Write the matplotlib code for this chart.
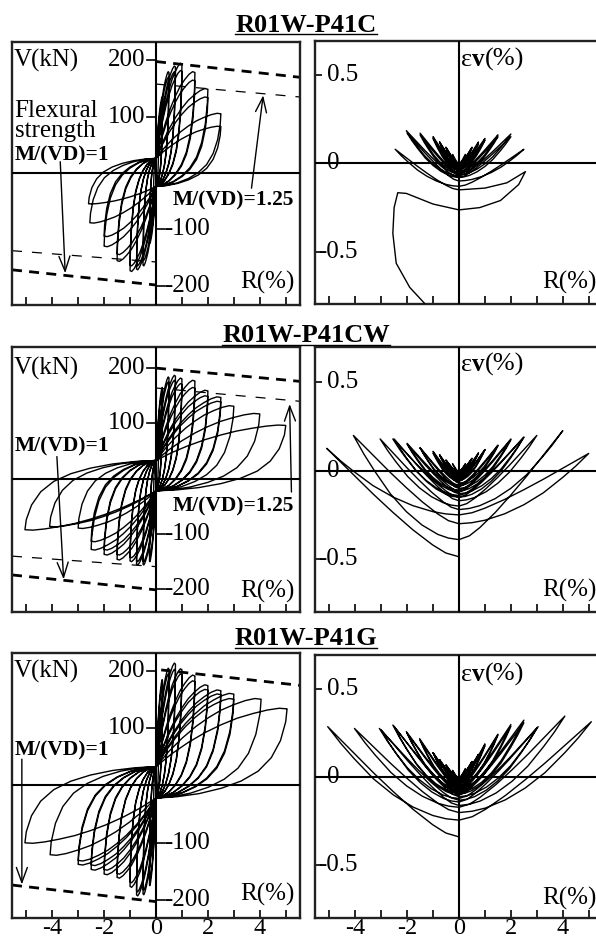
import matplotlib
matplotlib.use('Agg')
import matplotlib.pyplot as plt
from matplotlib.lines import Line2D
from matplotlib.transforms import blended_transform_factory as btf

plt.rcParams['font.family'] = ['Liberation Serif', 'DejaVu Serif']

# ---------------- data ----------------
titles = ['R01W-P41C', 'R01W-P41CW', 'R01W-P41G']
x_ticks = [-5, -4, -3, -2, -1, 0, 1, 2, 3, 4, 5]
x_ticklabels = ['', '-4', '', '-2', '', '0', '', '2', '', '4', '']
v_ticks_pos = [200, 100]
v_ticks_neg = [-100, -200]
ev_ticks = [0.5, 0.0, -0.5]
ev_ticklabels = ['0.5', '0', '-0.5']

# Shear force - drift: peak drift / peak shear for each cycle
vr1_r_pos = [0.1, 0.25, 0.25, 0.5, 0.5, 0.75, 0.75, 1.0, 1.0, 1.5, 1.5, 2.0, 2.0, 2.5, 2.5]
vr1_v_pos = [70, 135, 125, 180, 170, 190, 180, 195, 182, 180, 165, 150, 135, 106, 83]
vr1_r_neg = [-0.1, -0.25, -0.25, -0.5, -0.5, -0.75, -0.75, -1.0, -1.0, -1.5, -1.5, -2.0, -2.0, -2.55, -2.6]
vr1_v_neg = [-65, -125, -115, -165, -155, -172, -165, -175, -165, -157, -145, -131, -113, -89, -55]
vr1_pinch = [26, -24]

vr2_r_pos = [0.1, 0.25, 0.25, 0.5, 0.5, 0.75, 0.75, 1.0, 1.0, 1.5, 1.5, 2.0, 2.0, 2.5, 2.5, 3.0, 4.0, 5.0]
vr2_v_pos = [75, 165, 155, 184, 175, 187, 178, 182, 172, 178, 165, 160, 150, 148, 140, 132, 118, 97]
vr2_r_neg = [-0.1, -0.25, -0.25, -0.5, -0.5, -0.75, -0.75, -1.0, -1.0, -1.5, -1.5, -2.0, -2.0, -2.5, -2.5, -3.0, -4.1, -5.05]
vr2_v_neg = [-70, -150, -140, -156, -150, -156, -150, -150, -143, -147, -138, -138, -129, -129, -114, -90, -87, -93]
vr2_pinch = [33, -22]

vr3_r_pos = [0.1, 0.25, 0.25, 0.5, 0.5, 0.75, 0.75, 1.0, 1.0, 1.5, 1.5, 2.0, 2.0, 2.5, 2.5, 3.0, 3.0, 4.05, 5.05]
vr3_v_pos = [80, 185, 175, 205, 195, 214, 203, 204, 195, 193, 183, 176, 168, 167, 160, 161, 152, 152, 135]
vr3_r_neg = [-0.1, -0.25, -0.25, -0.5, -0.5, -0.75, -0.75, -1.0, -1.0, -1.5, -1.5, -2.0, -2.0, -2.5, -2.5, -3.0, -3.0, -4.08, -5.05]
vr3_v_neg = [-75, -175, -165, -191, -183, -193, -186, -178, -170, -162, -155, -156, -148, -148, -140, -139, -132, -122, -101]
vr3_pinch = [33, -22]

# Vertical strain - drift: peak drift, strain at peak, strain at R=0 after each half cycle
ev1_r_pos = [0.25, 0.5, 0.5, 0.75, 0.75, 1.0, 1.0, 1.5, 1.5, 2.0, 2.0, 2.5]
ev1_e_pos = [0.05, 0.09, 0.09, 0.12, 0.11, 0.14, 0.13, 0.16, 0.15, 0.165, 0.15, 0.079]
ev1_b_pos = [-0.005, -0.01, -0.015, -0.02, -0.025, -0.03, -0.04, -0.05, -0.06, -0.07, -0.08, -0.13]
ev1_r_neg = [-0.25, -0.5, -0.5, -0.75, -0.75, -1.0, -1.0, -1.5, -1.5, -2.03, -2.0, -2.46]
ev1_e_neg = [0.05, 0.09, 0.09, 0.12, 0.12, 0.15, 0.14, 0.17, 0.16, 0.184, 0.17, 0.079]
ev1_b_neg = [-0.005, -0.01, -0.015, -0.02, -0.025, -0.035, -0.045, -0.055, -0.065, -0.08, -0.1, -0.15]
ev1_tail_r = [0.0, 1.0, 1.85, 2.56, 2.3, 1.6, 0.8, 0.0, -1.0, -2.03, -2.36, -2.5, -2.55, -2.42, -1.9, -1.33, -1.1]
ev1_tail_e = [-0.15, -0.14, -0.11, -0.047, -0.12, -0.21, -0.25, -0.263, -0.23, -0.17, -0.166, -0.25, -0.395, -0.564, -0.70, -0.79, -0.85]

ev2_r_pos = [0.25, 0.5, 0.5, 0.75, 0.75, 1.0, 1.0, 1.5, 1.5, 2.0, 2.0, 2.5, 2.5, 3.0, 4.0, 5.0]
ev2_e_pos = [0.04, 0.07, 0.07, 0.10, 0.10, 0.12, 0.12, 0.145, 0.14, 0.18, 0.175, 0.19, 0.19, 0.20, 0.227, 0.098]
ev2_b_pos = [-0.005, -0.01, -0.02, -0.03, -0.04, -0.05, -0.06, -0.08, -0.09, -0.11, -0.12, -0.14, -0.15, -0.2, -0.39, -0.25]
ev2_r_neg = [-0.25, -0.5, -0.5, -0.75, -0.75, -1.0, -1.0, -1.5, -1.5, -2.0, -2.0, -2.55, -2.5, -3.04, -4.07, -5.1]
ev2_e_neg = [0.04, 0.06, 0.06, 0.09, 0.09, 0.11, 0.10, 0.13, 0.13, 0.155, 0.15, 0.18, 0.18, 0.18, 0.2, 0.127]
ev2_b_neg = [-0.008, -0.015, -0.025, -0.035, -0.045, -0.055, -0.07, -0.085, -0.1, -0.115, -0.13, -0.15, -0.17, -0.22, -0.3, -0.487]

ev3_r_pos = [0.25, 0.5, 0.5, 0.75, 0.75, 1.0, 1.0, 1.5, 1.5, 2.0, 2.0, 2.5, 2.5, 3.05, 3.0, 4.08, 5.1]
ev3_e_pos = [0.05, 0.09, 0.09, 0.13, 0.13, 0.19, 0.18, 0.245, 0.24, 0.30, 0.29, 0.325, 0.31, 0.288, 0.28, 0.348, 0.316]
ev3_b_pos = [-0.005, -0.01, -0.015, -0.02, -0.025, -0.03, -0.04, -0.05, -0.06, -0.07, -0.08, -0.09, -0.1, -0.12, -0.14, -0.17, -0.243]
ev3_r_neg = [-0.25, -0.5, -0.5, -0.75, -0.75, -1.0, -1.0, -1.52, -1.5, -2.03, -2.0, -2.55, -2.5, -3.07, -3.0, -4.03, -5.06]
ev3_e_neg = [0.04, 0.07, 0.07, 0.1, 0.1, 0.14, 0.14, 0.22, 0.21, 0.26, 0.25, 0.297, 0.29, 0.278, 0.27, 0.278, 0.288]
ev3_b_neg = [-0.008, -0.012, -0.018, -0.024, -0.03, -0.035, -0.045, -0.055, -0.065, -0.075, -0.085, -0.095, -0.11, -0.13, -0.16, -0.2, -0.338]

# Flexural strength lines: (R start, R end), (V start, V end)
flex1_top = [(0.0, 5.55), (198, 170)]
flex1_bot = [(-5.55, 0.0), (-172, -199)]
flex125_1_top = [(0.0, 5.55), (158, 135)]
flex125_1_bot = [(-5.55, 0.0), (-138, -158)]
flex2_top = [(0.0, 5.55), (200, 176)]
flex2_bot = [(-5.55, 0.0), (-174, -201)]
flex125_2_top = [(0.0, 5.55), (164, 140)]
flex125_2_bot = [(-5.55, 0.0), (-140, -159)]
flex3_top = [(0.2, 5.55), (202, 175)]
flex3_bot = [(-5.55, 0.0), (-174, -203)]

# ---------------- loop shapes (fractions of each cycle) ----------------
VR_LOAD_U = [0.0, 0.12, 0.25, 0.38, 0.5, 0.62, 0.74, 0.85, 0.94, 1.0]
VR_LOAD_W = [0.0, 0.22, 0.42, 0.59, 0.72, 0.83, 0.91, 0.97, 1.0, 0.99]
VR_UNL_U = [1.0, 0.99, 0.95, 0.88, 0.78, 0.65, 0.5, 0.33, 0.16, 0.0]
VR_UNL_W = [0.99, 0.85, 0.64, 0.45, 0.3, 0.19, 0.11, 0.05, 0.015, 0.0]
EV_OUT_U = [0.0, 0.1, 0.2, 0.35, 0.5, 0.65, 0.8, 0.9, 1.0]
EV_OUT_G = [0.0, 0.015, 0.05, 0.14, 0.27, 0.44, 0.66, 0.82, 1.0]
EV_RET_U = [1.0, 0.9, 0.8, 0.65, 0.5, 0.35, 0.2, 0.1, 0.0]
EV_RET_G = [1.0, 0.88, 0.76, 0.58, 0.41, 0.25, 0.11, 0.035, 0.0]

W, H = 596, 940
fig = plt.figure(figsize=(W / 100, H / 100), dpi=100)


def rect(x0, x1, top, bot):
    return [x0 / W, 1 - bot / H, (x1 - x0) / W, (bot - top) / H]


left_rows = [(42, 305), (346.7, 611.7), (653, 917.7)]
right_rows = [(41, 304), (347.3, 611.7), (655, 917.7)]
left_ylims = [(-234.5, 232.7), (-240.5, 238.7), (-231.1, 231.6)]
right_ylims = [(-0.794, 0.69), (-0.798, 0.699), (-0.797, 0.695)]
title_base = [31.7, 342, 645]

FS = 18
LW_FRAME = 1.7
LW_AX = 1.5
LW_LOOP = 1.0


def vr_curve(rp, vp, rn, vn, pinch):
    pu, pl = pinch
    R, V = [0.0], [0.0]
    for a, b, c, d in zip(rp, vp, rn, vn):
        for u, w in zip(VR_LOAD_U, VR_LOAD_W):
            R.append(u * a); V.append(pu + (b - pu) * w)
        for u, w in zip(VR_UNL_U, VR_UNL_W):
            R.append(u * a); V.append(pl + (b - pl) * w)
        for u, w in zip(VR_LOAD_U, VR_LOAD_W):
            R.append(u * c); V.append(pl + (d - pl) * w)
        for u, w in zip(VR_UNL_U, VR_UNL_W):
            R.append(u * c); V.append(pu + (d - pu) * w)
    return R, V


def ev_curve(rp, ep, bp, rn, en, bn):
    R, E = [0.0], [0.0]
    b0 = 0.0
    for a, e1, b1, c, e2, b2 in zip(rp, ep, bp, rn, en, bn):
        for u, g in zip(EV_OUT_U, EV_OUT_G):
            R.append(u * a); E.append(b0 + (e1 - b0) * g)
        for u, g in zip(EV_RET_U, EV_RET_G):
            R.append(u * a); E.append(b1 + (e1 - b1) * g)
        for u, g in zip(EV_OUT_U, EV_OUT_G):
            R.append(u * c); E.append(b1 + (e2 - b1) * g)
        for u, g in zip(EV_RET_U, EV_RET_G):
            R.append(u * c); E.append(b2 + (e2 - b2) * g)
        b0 = b2
    return R, E


def style_axes(ax, bottom_labels):
    ax.set_xlim(-5.55, 5.55)
    for s in ax.spines.values():
        s.set_linewidth(LW_FRAME)
        s.set_color('#222222')
    ax.set_xticks(x_ticks)
    if bottom_labels:
        ax.set_xticklabels(x_ticklabels, fontsize=17.5)
    else:
        ax.set_xticklabels([''] * len(x_ticks))
    ax.tick_params(axis='x', direction='in', length=5.5, width=1.2, pad=0.5)
    ax.axvline(0, color='black', lw=LW_AX, zorder=3)
    ax.axhline(0, color='black', lw=LW_AX, zorder=3)


vr_sets = [
    (vr1_r_pos, vr1_v_pos, vr1_r_neg, vr1_v_neg, vr1_pinch),
    (vr2_r_pos, vr2_v_pos, vr2_r_neg, vr2_v_neg, vr2_pinch),
    (vr3_r_pos, vr3_v_pos, vr3_r_neg, vr3_v_neg, vr3_pinch),
]
ev_sets = [
    (ev1_r_pos, ev1_e_pos, ev1_b_pos, ev1_r_neg, ev1_e_neg, ev1_b_neg),
    (ev2_r_pos, ev2_e_pos, ev2_b_pos, ev2_r_neg, ev2_e_neg, ev2_b_neg),
    (ev3_r_pos, ev3_e_pos, ev3_b_pos, ev3_r_neg, ev3_e_neg, ev3_b_neg),
]
flex_thick = [(flex1_top, flex1_bot), (flex2_top, flex2_bot), (flex3_top, flex3_bot)]
flex_thin = [(flex125_1_top, flex125_1_bot), (flex125_2_top, flex125_2_bot), None]

ARROW = dict(arrowstyle='->,head_length=0.6,head_width=0.22', lw=1.0,
             color='black', mutation_scale=18, shrinkA=0, shrinkB=0)

title_texts = []
for i in range(3):
    # ---------- left: V - R ----------
    ax = fig.add_axes(rect(12, 300, *left_rows[i]))
    ax.set_ylim(*left_ylims[i])
    style_axes(ax, i == 2)
    ax.set_yticks([])
    R, V = vr_curve(*vr_sets[i])
    ax.plot(R, V, color='black', lw=LW_LOOP, solid_joinstyle='round', zorder=4)
    for seg in flex_thick[i]:
        ax.plot(seg[0], seg[1], color='black', lw=2.0, dashes=(3.6, 2.6), zorder=2)
    if flex_thin[i] is not None:
        for seg in flex_thin[i]:
            ax.plot(seg[0], seg[1], color='black', lw=0.9, dashes=(8, 8), zorder=2)
    for v in v_ticks_pos:
        ax.plot([-0.35, 0], [v, v], color='black', lw=1.2, zorder=3)
        ax.text(-0.42, v, str(v), ha='right', va='center', fontsize=FS, zorder=5)
    for v in v_ticks_neg:
        ax.plot([0, 0.35], [v, v], color='black', lw=1.2, zorder=3)
        ax.text(0.30, v, '-' + str(abs(v)), ha='left', va='center', fontsize=FS, zorder=5)
    ax.text(-5.47, 200, 'V(kN)', ha='left', va='center', fontsize=FS)
    ax.text(5.35, [-195, -204, -191][i], 'R(%)', ha='right', va='center', fontsize=FS)

    if i == 0:
        ax.text(-5.45, 110, 'Flexural', ha='left', va='center', fontsize=FS)
        ax.text(-5.45, 74, 'strength', ha='left', va='center', fontsize=FS)
        ax.text(-5.45, 31, 'M/(VD)=1', ha='left', va='center', fontsize=15.5, fontweight='bold')
        ax.annotate('', xy=(-3.5, -178), xytext=(-3.69, 20), arrowprops=ARROW)
        ax.text(3.0, -48, 'M/(VD)=1.25', ha='center', va='center', fontsize=15.5, fontweight='bold')
        ax.annotate('', xy=(4.13, 138), xytext=(3.68, -27), arrowprops=ARROW)
    elif i == 1:
        ax.text(-5.45, 58, 'M/(VD)=1', ha='left', va='center', fontsize=15.5, fontweight='bold')
        ax.annotate('', xy=(-3.56, -182), xytext=(-3.82, 40), arrowprops=ARROW)
        ax.text(3.0, -51, 'M/(VD)=1.25', ha='center', va='center', fontsize=15.5, fontweight='bold')
        ax.annotate('', xy=(5.15, 135), xytext=(5.22, -24), arrowprops=ARROW)
    else:
        ax.text(-5.45, 62, 'M/(VD)=1', ha='left', va='center', fontsize=15.5, fontweight='bold')
        ax.annotate('', xy=(-5.17, -173), xytext=(-5.17, 46), arrowprops=ARROW)

    # ---------- right: ev - R ----------
    bx = fig.add_axes(rect(315, 603, *right_rows[i]))
    bx.set_ylim(*right_ylims[i])
    style_axes(bx, i == 2)
    bx.set_yticks(ev_ticks)
    bx.set_yticklabels([''] * 3)
    bx.tick_params(axis='y', direction='in', length=5, width=1.2)
    tr = btf(bx.transAxes, bx.transData)
    for val, lab in zip(ev_ticks, ev_ticklabels):
        xx = 0.040 if not lab.startswith('-') else 0.012
        bx.text(xx, val, lab, ha='left', va='center', fontsize=FS, transform=tr, zorder=5)
    R, E = ev_curve(*ev_sets[i])
    if i == 0:
        R = R + ev1_tail_r
        E = E + ev1_tail_e
    bx.plot(R, E, color='black', lw=LW_LOOP, solid_joinstyle='round', zorder=4)
    t1 = bx.text(0.09, [0.58, 0.60, 0.58][i], '\u03b5', ha='left', va='center', fontsize=19)
    t2 = bx.annotate('v', xy=(1, 0), xycoords=t1, ha='left', va='bottom', fontsize=18,
                     fontweight='bold')
    bx.annotate('(%)', xy=(1, 0), xycoords=t2, ha='left', va='bottom', fontsize=19)
    bx.text(5.3, [-0.675, -0.68, -0.686][i], 'R(%)', ha='right', va='center', fontsize=FS)

    title_texts.append(fig.text(306 / W, 1 - title_base[i] / H, titles[i], ha='center',
                                va='baseline', fontsize=19, fontweight='bold'))

fig.canvas.draw()
for t in title_texts:
    bb = t.get_window_extent()
    ybase = t.get_transform().transform(t.get_position())[1] - 2.5
    fig.add_artist(Line2D([bb.x0 / W, bb.x1 / W], [ybase / H, ybase / H],
                          color='black', lw=1.0, transform=fig.transFigure))

fig.savefig('out.png', dpi=100)
